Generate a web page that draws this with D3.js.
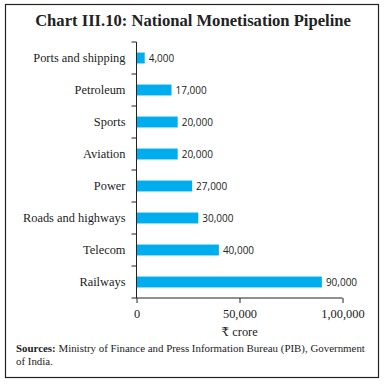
<!DOCTYPE html>
<html>
<head>
<meta charset="utf-8">
<script src="https://cdn.jsdelivr.net/npm/d3@7/dist/d3.min.js"></script>
<style>
  body { margin: 0; background: #fff; }
  svg { display: block; }
</style>
</head>
<body>
<svg id="chart" width="384" height="384"></svg>
<script>
// data (₹ crore)
var sectors = ["Ports and shipping", "Petroleum", "Sports", "Aviation", "Power",
               "Roads and highways", "Telecom", "Railways"];
var values = [4000, 17000, 20000, 20000, 27000, 30000, 40000, 90000];
var xTicks = [0, 50000, 100000];
var xTickLabels = ["0", "50,000", "1,00,000"];

var serif = "'Liberation Serif', 'DejaVu Serif', serif";
var sans = "'Open Sans', 'Liberation Sans', sans-serif";

var svg = d3.select("#chart");

// outer frame
svg.append("rect")
  .attr("x", 5.5).attr("y", 4.5)
  .attr("width", 373).attr("height", 373)
  .attr("fill", "none")
  .attr("stroke", "#222")
  .attr("stroke-width", 1.2);

// title
svg.append("text")
  .attr("x", 193).attr("y", 26)
  .attr("text-anchor", "middle")
  .style("font-family", serif)
  .style("font-weight", "bold")
  .style("font-size", "16.6px")
  .attr("fill", "#222")
  .text("Chart III.10: National Monetisation Pipeline");

var plotLeft = 136.5, plotRight = 342.5, plotTop = 42, plotBottom = 298;

var x = d3.scaleLinear().domain([0, 100000]).range([plotLeft, plotRight]);
var y = d3.scaleBand().domain(sectors).range([plotTop, plotBottom]).paddingInner(0.66).paddingOuter(0.33);

// bars
svg.selectAll(".bar")
  .data(values)
  .enter().append("rect")
  .attr("class", "bar")
  .attr("x", x(0))
  .attr("y", function(d, i) { return y(sectors[i]); })
  .attr("width", function(d) { return x(d) - x(0); })
  .attr("height", y.bandwidth())
  .attr("fill", "#00aeef");

// value labels
svg.selectAll(".val")
  .data(values)
  .enter().append("text")
  .attr("class", "val")
  .attr("x", function(d) { return x(d) + 4; })
  .attr("y", function(d, i) { return y(sectors[i]) + y.bandwidth() / 2; })
  .attr("dy", "0.35em")
  .style("font-family", sans)
  .style("font-size", "10px")
  .attr("fill", "#222")
  .text(function(d) { return d3.format(",")(d); });

// y axis: line with ticks between categories
var yAxis = svg.append("g");
yAxis.append("line")
  .attr("x1", plotLeft).attr("x2", plotLeft)
  .attr("y1", plotTop).attr("y2", plotBottom)
  .attr("stroke", "#222");
var step = y.step();
yAxis.selectAll(".ytick")
  .data(d3.range(sectors.length + 1))
  .enter().append("line")
  .attr("x1", plotLeft - 5).attr("x2", plotLeft)
  .attr("y1", function(i) { return plotTop + i * step; })
  .attr("y2", function(i) { return plotTop + i * step; })
  .attr("stroke", "#222");

// category labels
svg.selectAll(".cat")
  .data(sectors)
  .enter().append("text")
  .attr("class", "cat")
  .attr("x", plotLeft - 11)
  .attr("y", function(d) { return y(d) + y.bandwidth() / 2; })
  .attr("dy", "0.35em")
  .attr("text-anchor", "end")
  .style("font-family", serif)
  .style("font-size", "12.4px")
  .attr("fill", "#222")
  .text(function(d) { return d; });

// x axis
var xAxis = svg.append("g")
  .attr("transform", "translate(0," + plotBottom + ")")
  .call(d3.axisBottom(x).tickValues(xTicks)
    .tickFormat(function(d, i) { return xTickLabels[i]; })
    .tickSize(5).tickPadding(6));
xAxis.select(".domain").attr("stroke", "#222").attr("d", "M" + plotLeft + ",0H" + plotRight);
xAxis.selectAll(".tick line").attr("stroke", "#222");
xAxis.selectAll("text")
  .style("font-family", serif)
  .style("font-size", "12.4px")
  .attr("fill", "#222");

svg.append("text")
  .attr("x", x(50000)).attr("y", 336)
  .attr("text-anchor", "middle")
  .style("font-family", serif)
  .style("font-size", "12.4px")
  .attr("fill", "#222")
  .text("₹ crore");

// source note
var src = svg.append("text")
  .attr("x", 16).attr("y", 352)
  .style("font-family", serif)
  .style("font-size", "10.9px")
  .attr("fill", "#222");
src.append("tspan").style("font-weight", "bold").text("Sources:");
src.append("tspan").text(" Ministry of Finance and Press Information Bureau (PIB), Government");
svg.append("text")
  .attr("x", 16).attr("y", 365)
  .style("font-family", serif)
  .style("font-size", "10.9px")
  .attr("fill", "#222")
  .text("of India.");
</script>
</body>
</html>
